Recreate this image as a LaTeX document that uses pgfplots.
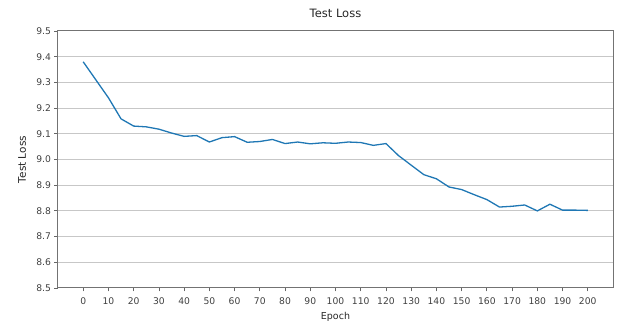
\documentclass[border=0pt]{standalone}
\usepackage{fontspec}
\setmainfont{DejaVu Sans}
\usepackage{pgfplots}
\pgfplotsset{compat=1.18}
\definecolor{mplblue}{HTML}{1F77B4}
\begin{document}
\begin{tikzpicture}
\useasboundingbox (-58pt,-35pt) rectangle (560pt,288pt);
\begin{axis}[
  at={(0pt,0pt)}, anchor=south west,
  scale only axis,
  width=555pt, height=257pt,
  xmin=-10, xmax=210,
  ymin=8.5, ymax=9.5,
  xtick={0,10,...,200},
  ytick={8.5,8.6,...,9.5},
  yticklabel style={/pgf/number format/.cd,fixed,fixed zerofill,precision=1},
  /pgf/number format/assume math mode=true,
  tick label style={font=\fontsize{9.2}{10}\selectfont, text=black!75},
  xticklabel style={anchor=base, yshift=-13pt},
  title={Test Loss},
  title style={font=\fontsize{11.5}{12}\selectfont, text=black!85, at={(axis description cs:0.5,1)}, anchor=base, yshift=7pt},
  xlabel={Epoch},
  xlabel style={font=\fontsize{9.5}{10}\selectfont, text=black!85, at={(axis description cs:0.5,0)}, anchor=base, yshift=-32pt},
  ylabel={Test Loss},
  ylabel style={font=\fontsize{10.5}{11}\selectfont, text=black!85, at={(axis description cs:0,0.5)}, anchor=center, rotate=0, yshift=36pt},
  ymajorgrids,
  grid style={draw=black!22, line width=1pt},
  axis line style={draw=black!55, line width=1pt},
  tick style={draw=black!60, line width=0.8pt},
  tick align=outside,
  xtick pos=bottom, ytick pos=left,
  major tick length=3.5pt,
]
\addplot[mplblue, line width=1.3pt] coordinates {
(0,9.38) (5,9.31) (10,9.24) (15,9.158) (20,9.13) (25,9.127) (30,9.118)
(35,9.103) (40,9.09) (45,9.093) (50,9.068) (55,9.085) (60,9.089) (65,9.067)
(70,9.07) (75,9.078) (80,9.062) (85,9.068) (90,9.061) (95,9.065) (100,9.063)
(105,9.068) (110,9.066) (115,9.055) (120,9.062) (125,9.015) (130,8.978)
(135,8.941) (140,8.925) (145,8.893) (150,8.883) (155,8.863) (160,8.844)
(165,8.815) (170,8.818) (175,8.823) (180,8.8) (185,8.826) (190,8.803)
(195,8.803) (200,8.802)
};
\end{axis}
\end{tikzpicture}
\end{document}
